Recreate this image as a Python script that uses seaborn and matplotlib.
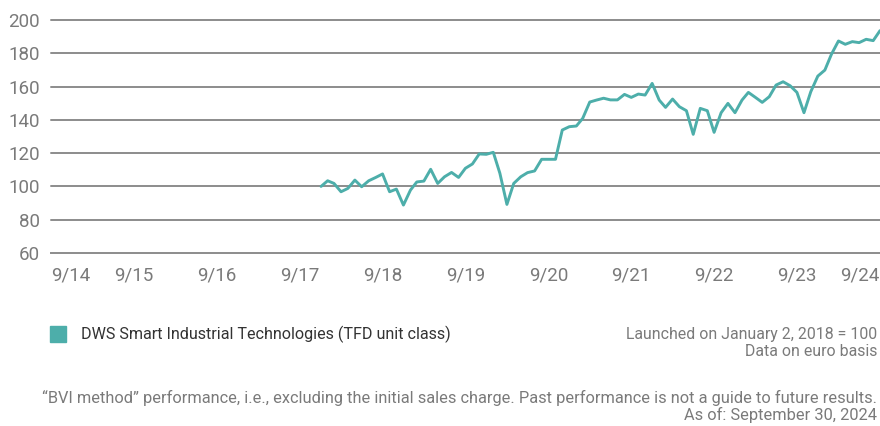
import matplotlib
matplotlib.use("Agg")
import matplotlib.pyplot as plt
import seaborn as sns
import pandas as pd
import numpy as np

# ---- data ----
start_date = "2018-01-02"
values = [100.0, 103.4, 101.8, 96.8, 98.8, 103.8, 99.8, 103.4, 105.4, 107.5,
          96.8, 98.4, 88.8, 97.8, 102.7, 103.2, 110.3, 101.8, 105.8, 108.4,
          105.4, 110.9, 113.5, 119.5, 119.3, 120.5, 107.9, 89.2, 101.8, 105.8,
          108.3, 109.3, 116.3, 116.3, 116.3, 133.9, 135.9, 136.3, 140.9, 150.7,
          151.9, 153.0, 152.0, 152.0, 155.3, 153.5, 155.5, 154.9, 161.9, 151.9,
          147.5, 152.5, 147.9, 145.5, 131.3, 146.9, 145.5, 132.5, 144.3, 149.9,
          144.3, 151.9, 156.5, 153.5, 150.5, 153.9, 160.9, 162.9, 160.5, 156.5,
          144.3, 156.9, 166.3, 169.9, 179.4, 187.4, 185.4, 187.0, 186.4, 188.4,
          187.6, 193.6]
tick_years = list(range(2014, 2025))
tick_labels = ["9/14", "9/15", "9/16", "9/17", "9/18", "9/19", "9/20",
               "9/21", "9/22", "9/23", "9/24"]
y_ticks = [60, 80, 100, 120, 140, 160, 180, 200]
series_name = "DWS Smart Industrial Technologies (TFD unit class)"

dates = [pd.Timestamp(start_date)] + list(
    pd.date_range("2018-01-31", periods=len(values) - 1, freq="ME"))
df = pd.DataFrame({"date": dates, "value": values})

# ---- style ----
sns.set_theme(style="white")
plt.rcParams["font.family"] = ["Roboto", "DejaVu Sans"]

TEAL = "#4daeaa"
GRID = "#8c8c8c"
TXT = "#7a7a7a"
DARK = "#333333"

W, H = 880, 426
fig = plt.figure(figsize=(W / 100, H / 100), dpi=100)
ax = fig.add_axes([51 / W, 1 - 253 / H, (880 - 51) / W, (253 - 20) / H])

sns.lineplot(data=df, x="date", y="value", ax=ax, color=TEAL, linewidth=2.1,
             zorder=3)

ax.set_xlim(pd.Timestamp("2014-09-30"), pd.Timestamp("2024-09-30"))
ax.set_ylim(60, 200)
ax.set_yticks(y_ticks)
ax.set_yticklabels([str(v) for v in y_ticks])
ticks = [pd.Timestamp(f"{y}-09-30") for y in tick_years]
ax.set_xticks(ticks)
ax.set_xticklabels(tick_labels)
lbls = ax.get_xticklabels()
lbls[0].set_ha("left")
lbls[-1].set_ha("right")

for v in y_ticks[1:]:
    ax.axhline(v, color=GRID, linewidth=1.4, zorder=1, clip_on=False)

for s in ["top", "right", "left"]:
    ax.spines[s].set_visible(False)
ax.spines["bottom"].set_color(GRID)
ax.spines["bottom"].set_linewidth(1.4)
ax.grid(False)
ax.tick_params(axis="x", direction="out", length=7, width=1.4, color=GRID,
               labelsize=13.5, labelcolor=TXT, pad=3)
ax.tick_params(axis="y", length=0, labelsize=13.5, labelcolor=TXT, pad=8)
ax.set_xlabel("")
ax.set_ylabel("")

# ---- legend & notes ----
fig.patches.append(plt.Rectangle((50 / W, 1 - 342 / H), 16 / W, 16 / H,
                                 transform=fig.transFigure, color=TEAL))
fig.text(81 / W, 1 - 334 / H, series_name, fontsize=11.6, color=DARK,
         va="center", ha="left")
fig.text(877 / W, 1 - 334 / H, "Launched on January 2, 2018 = 100",
         fontsize=11.4, color=TXT, va="center", ha="right")
fig.text(877 / W, 1 - 352 / H, "Data on euro basis",
         fontsize=11.4, color=TXT, va="center", ha="right")
fig.text(877 / W, 1 - 398 / H,
         "\u201cBVI method\u201d performance, i.e., excluding the initial sales charge. "
         "Past performance is not a guide to future results.",
         fontsize=11.75, color=TXT, va="center", ha="right")
fig.text(877 / W, 1 - 415 / H, "As of: September 30, 2024",
         fontsize=11.75, color=TXT, va="center", ha="right")

fig.savefig("out.png", dpi=100)
